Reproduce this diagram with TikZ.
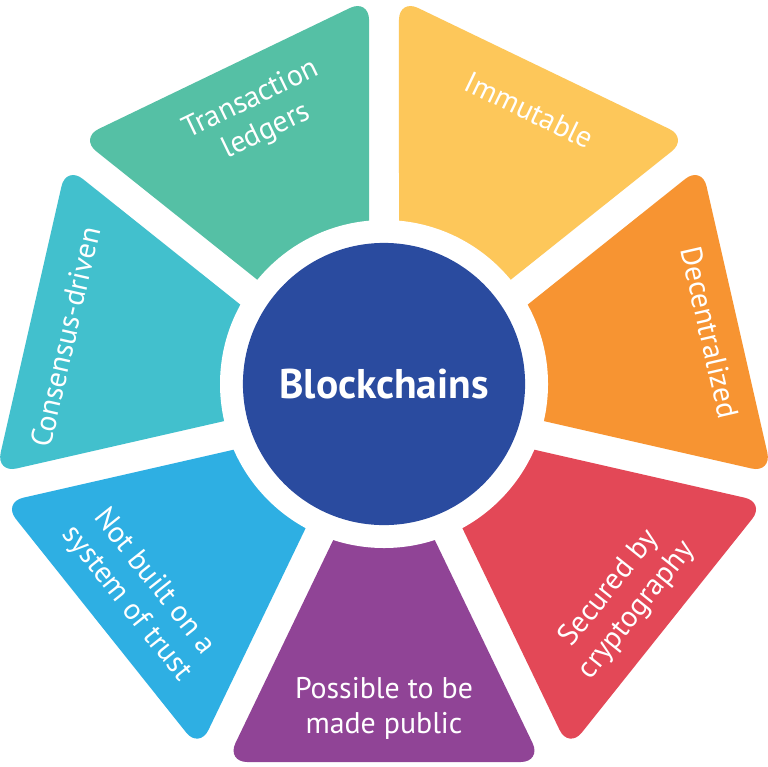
\documentclass[tikz,border=0pt]{standalone}
\usepackage{fontspec}
\setmainfont{PT Sans}

\definecolor{ledgergreen}{HTML}{55C0A5}
\definecolor{immyellow}{HTML}{FDC75A}
\definecolor{decorange}{HTML}{F79432}
\definecolor{cryptred}{HTML}{E34857}
\definecolor{publicpurple}{HTML}{904496}
\definecolor{trustblue}{HTML}{2EAFE3}
\definecolor{consteal}{HTML}{42C0CD}
\definecolor{hubblue}{HTML}{2A4B9F}

\begin{document}
\begin{tikzpicture}[x=0.01cm, y=0.01cm,
    wedge/.style={rounded corners=6pt},
    feat/.style={text=white, align=center, inner sep=0pt, font=\fontsize{8.5}{10}\selectfont},
    hub/.style={circle, fill=hubblue, minimum size=2.82cm, text=white, font=\bfseries\fontsize{11.8}{13}\selectfont}
]
\fill[white] (0,0) rectangle (768,766);
\useasboundingbox (0,0) rectangle (768,766);

\coordinate (mid) at (384,382);
\coordinate (hept) at (384,366);

% Segments
\foreach \ang/\apo/\col in {64.29/368/immyellow, 12.86/362/decorange, -38.57/362/cryptred,
                            -90/362/publicpurple, -141.43/362/trustblue, 167.14/362/consteal,
                            115.71/368/ledgergreen}
  \fill[\col, wedge, shift={(hept)}, rotate=\ang]
    (34.6,0) -- (\apo,{\apo*0.48157-16.65}) -- (\apo,{-\apo*0.48157+16.65}) -- cycle;

% Ring and hub
\fill[white] (mid) circle (164);
\node[hub] (hub) at (mid) {Blockchains};

% Labels
\node[feat, rotate=-25.71] (immutable) at ([shift={(62:310)}]mid) {Immutable};
\node[feat, rotate=-77.14] (decentral) at ([shift={(9:330)}]mid) {Decentralized};
\node[feat, rotate=51.43] (crypto) at ([shift={(-42:322)}]mid) {Secured by\\cryptography};
\node[feat] (public) at ([shift={(-90:324)}]mid) {Possible to be\\made public};
\node[feat, rotate=-51.43] (trust) at ([shift={(-139.4:321)}]mid) {Not built on a\\system of trust};
\node[feat, rotate=77.14] (consensus) at ([shift={(171.6:322)}]mid) {Consensus-driven};
\node[feat, rotate=25.71] (ledgers) at ([shift={(115:296)}]mid) {Transaction\\ledgers};

\end{tikzpicture}
\end{document}
